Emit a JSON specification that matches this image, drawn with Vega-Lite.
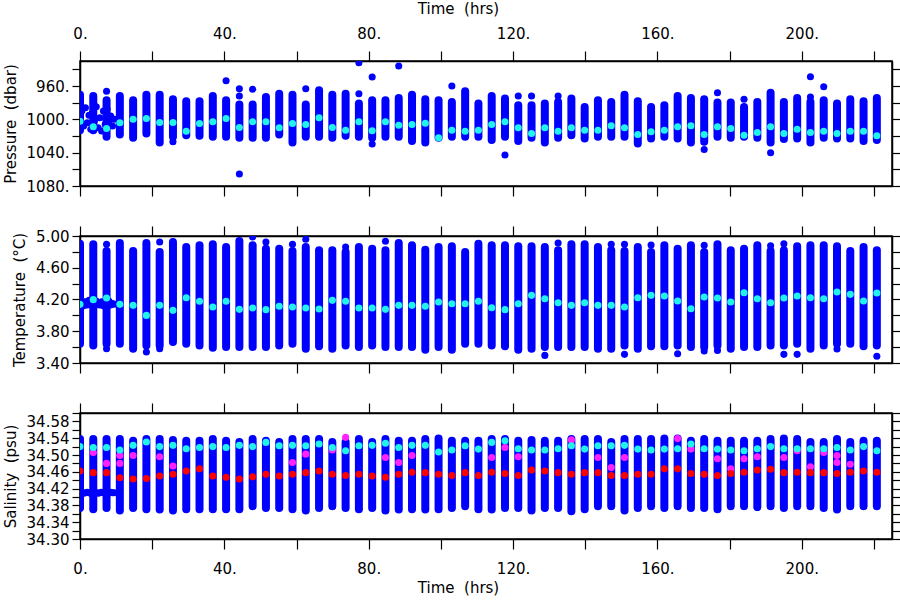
{
"$schema": "https://vega.github.io/schema/vega-lite/v6.json",
"background": "white",
"padding": {"left": 2, "top": 0, "right": 0, "bottom": 0},
"bounds": "flush",
"spacing": 50,
"resolve": {"scale": {"x": "independent", "y": "independent"}, "axis": {"x": "independent", "y": "independent"}},
"config": {
  "view": {"stroke": "black", "strokeWidth": 1.5},
  "axis": {"labelFont": "DejaVu Sans", "titleFont": "DejaVu Sans", "labelFontSize": 15, "titleFontSize": 15, "titleFontWeight": "normal", "labelColor": "black", "titleColor": "black", "tickColor": "black", "domainColor": "black", "domainWidth": 1.5, "tickWidth": 1.2, "grid": false, "labelOverlap": false, "labelFlush": false, "labelBound": false}
},
"datasets": {
"cols": [
{"t":0,"plo":970.4,"phi":1013,"pc":1002.2,"tlo":3.643,"thi":4.903,"tc":4.139,"slo":34.374,"shi":34.538,"sc":34.520,"sr":34.462},
{"t":3.68,"plo":972.0,"phi":1013.0,"pc":1009.0,"tlo":3.622,"thi":4.895,"tc":4.198,"slo":34.371,"shi":34.538,"sc":34.518,"sr":34.458},
{"t":7.36,"plo":977.1,"phi":1021.0,"pc":1011.0,"tlo":3.643,"thi":4.811,"tc":4.219,"slo":34.374,"shi":34.538,"sc":34.518,"sr":34.458},
{"t":11.04,"plo":972.0,"phi":1018.2,"pc":1004.2,"tlo":3.643,"thi":4.912,"tc":4.139,"slo":34.368,"shi":34.538,"sc":34.512,"sr":34.446},
{"t":14.72,"plo":977.1,"phi":1022.2,"pc":999.8,"tlo":3.580,"thi":4.811,"tc":4.126,"slo":34.374,"shi":34.534,"sc":34.523,"sr":34.443},
{"t":18.4,"plo":970.4,"phi":1017.0,"pc":999.0,"tlo":3.622,"thi":4.912,"tc":4.000,"slo":34.371,"shi":34.538,"sc":34.531,"sr":34.444},
{"t":22.08,"plo":970.4,"phi":1027.7,"pc":1003.8,"tlo":3.622,"thi":4.798,"tc":4.126,"slo":34.370,"shi":34.538,"sc":34.520,"sr":34.450},
{"t":25.76,"plo":975.9,"phi":1021.0,"pc":1003.8,"tlo":3.664,"thi":4.924,"tc":4.063,"slo":34.368,"shi":34.536,"sc":34.523,"sr":34.454},
{"t":29.44,"plo":978.3,"phi":1019.0,"pc":1014.2,"tlo":3.643,"thi":4.861,"tc":4.223,"slo":34.371,"shi":34.534,"sc":34.515,"sr":34.462},
{"t":33.12,"plo":978.3,"phi":1019.8,"pc":1005.0,"tlo":3.622,"thi":4.882,"tc":4.177,"slo":34.371,"shi":34.534,"sc":34.518,"sr":34.467},
{"t":36.8,"plo":972.0,"phi":1021.0,"pc":1003.0,"tlo":3.593,"thi":4.895,"tc":4.105,"slo":34.371,"shi":34.538,"sc":34.520,"sr":34.450},
{"t":40.48,"plo":977.1,"phi":1021.0,"pc":999.0,"tlo":3.601,"thi":4.861,"tc":4.177,"slo":34.371,"shi":34.534,"sc":34.518,"sr":34.447},
{"t":44.16,"plo":982.3,"phi":1022.2,"pc":1009.8,"tlo":3.601,"thi":4.937,"tc":4.076,"slo":34.371,"shi":34.531,"sc":34.523,"sr":34.443},
{"t":47.84,"plo":982.3,"phi":1022.2,"pc":1003.0,"tlo":3.601,"thi":4.882,"tc":4.093,"slo":34.378,"shi":34.538,"sc":34.520,"sr":34.448},
{"t":51.52,"plo":973.1,"phi":1022.2,"pc":1003.0,"tlo":3.601,"thi":4.840,"tc":4.072,"slo":34.374,"shi":34.534,"sc":34.530,"sr":34.454},
{"t":55.2,"plo":969.2,"phi":1018.2,"pc":1010.2,"tlo":3.622,"thi":4.840,"tc":4.114,"slo":34.374,"shi":34.531,"sc":34.522,"sr":34.450},
{"t":58.88,"plo":970.4,"phi":1027.7,"pc":1005.0,"tlo":3.643,"thi":4.811,"tc":4.105,"slo":34.371,"shi":34.538,"sc":34.523,"sr":34.454},
{"t":62.56,"plo":982.3,"phi":1021.0,"pc":1006.2,"tlo":3.580,"thi":4.861,"tc":4.093,"slo":34.368,"shi":34.538,"sc":34.522,"sr":34.458},
{"t":66.24,"plo":965.2,"phi":1021.0,"pc":998.2,"tlo":3.610,"thi":4.819,"tc":4.080,"slo":34.374,"shi":34.538,"sc":34.526,"sr":34.462},
{"t":69.92,"plo":970.4,"phi":1022.2,"pc":1009.8,"tlo":3.580,"thi":4.819,"tc":4.189,"slo":34.378,"shi":34.531,"sc":34.518,"sr":34.454},
{"t":73.6,"plo":969.2,"phi":1019.8,"pc":1013.0,"tlo":3.622,"thi":4.798,"tc":4.177,"slo":34.374,"shi":34.531,"sc":34.510,"sr":34.451},
{"t":77.28,"plo":981.1,"phi":1021.0,"pc":1003.0,"tlo":3.601,"thi":4.861,"tc":4.093,"slo":34.371,"shi":34.538,"sc":34.522,"sr":34.454},
{"t":80.96,"plo":977.1,"phi":1022.2,"pc":1013.8,"tlo":3.622,"thi":4.840,"tc":4.093,"slo":34.374,"shi":34.531,"sc":34.523,"sr":34.450},
{"t":84.64,"plo":977.1,"phi":1021.0,"pc":1003.0,"tlo":3.601,"thi":4.819,"tc":4.076,"slo":34.368,"shi":34.538,"sc":34.528,"sr":34.447},
{"t":88.32,"plo":974.3,"phi":1021.0,"pc":1007.0,"tlo":3.601,"thi":4.912,"tc":4.126,"slo":34.370,"shi":34.534,"sc":34.518,"sr":34.454},
{"t":92,"plo":970.4,"phi":1026.1,"pc":1006.2,"tlo":3.601,"thi":4.882,"tc":4.126,"slo":34.371,"shi":34.534,"sc":34.523,"sr":34.459},
{"t":95.68,"plo":975.9,"phi":1027.7,"pc":1004.6,"tlo":3.568,"thi":4.828,"tc":4.114,"slo":34.370,"shi":34.538,"sc":34.523,"sr":34.458},
{"t":99.36,"plo":977.1,"phi":1022.2,"pc":1022.2,"tlo":3.601,"thi":4.861,"tc":4.168,"slo":34.371,"shi":34.539,"sc":34.507,"sr":34.454},
{"t":103.04,"plo":979.1,"phi":1021.0,"pc":1013.0,"tlo":3.568,"thi":4.870,"tc":4.147,"slo":34.374,"shi":34.534,"sc":34.512,"sr":34.451},
{"t":106.72,"plo":966.4,"phi":1021.0,"pc":1014.2,"tlo":3.643,"thi":4.798,"tc":4.147,"slo":34.378,"shi":34.534,"sc":34.522,"sr":34.458},
{"t":110.4,"plo":981.1,"phi":1021.0,"pc":1013.0,"tlo":3.643,"thi":4.903,"tc":4.177,"slo":34.371,"shi":34.534,"sc":34.514,"sr":34.451},
{"t":114.08,"plo":972.0,"phi":1024.9,"pc":1006.2,"tlo":3.622,"thi":4.882,"tc":4.097,"slo":34.370,"shi":34.538,"sc":34.530,"sr":34.459},
{"t":117.76,"plo":975.1,"phi":1021.0,"pc":1003.0,"tlo":3.610,"thi":4.882,"tc":4.072,"slo":34.374,"shi":34.538,"sc":34.534,"sr":34.456},
{"t":121.44,"plo":983.1,"phi":1026.1,"pc":1010.2,"tlo":3.568,"thi":4.870,"tc":4.147,"slo":34.374,"shi":34.534,"sc":34.515,"sr":34.451},
{"t":125.12,"plo":983.1,"phi":1022.2,"pc":1017.0,"tlo":3.580,"thi":4.870,"tc":4.252,"slo":34.368,"shi":34.536,"sc":34.512,"sr":34.464},
{"t":128.8,"plo":981.1,"phi":1027.7,"pc":1010.2,"tlo":3.601,"thi":4.861,"tc":4.210,"slo":34.374,"shi":34.534,"sc":34.512,"sr":34.462},
{"t":132.48,"plo":979.1,"phi":1022.2,"pc":1014.2,"tlo":3.601,"thi":4.819,"tc":4.160,"slo":34.374,"shi":34.534,"sc":34.515,"sr":34.458},
{"t":136.16,"plo":975.1,"phi":1019.0,"pc":1010.2,"tlo":3.601,"thi":4.895,"tc":4.126,"slo":34.366,"shi":34.538,"sc":34.522,"sr":34.454},
{"t":139.84,"plo":985.1,"phi":1022.9,"pc":1013.0,"tlo":3.601,"thi":4.895,"tc":4.160,"slo":34.371,"shi":34.538,"sc":34.514,"sr":34.458},
{"t":143.52,"plo":977.1,"phi":1021.0,"pc":1013.0,"tlo":3.580,"thi":4.861,"tc":4.126,"slo":34.378,"shi":34.538,"sc":34.522,"sr":34.458},
{"t":147.2,"plo":979.1,"phi":1021.0,"pc":1007.8,"tlo":3.580,"thi":4.819,"tc":4.126,"slo":34.378,"shi":34.531,"sc":34.522,"sr":34.451},
{"t":150.88,"plo":970.4,"phi":1021.0,"pc":1010.2,"tlo":3.622,"thi":4.811,"tc":4.105,"slo":34.368,"shi":34.538,"sc":34.523,"sr":34.451},
{"t":154.56,"plo":978.3,"phi":1028.9,"pc":1018.2,"tlo":3.580,"thi":4.861,"tc":4.223,"slo":34.374,"shi":34.538,"sc":34.514,"sr":34.454},
{"t":158.24,"plo":985.1,"phi":1022.9,"pc":1015.0,"tlo":3.610,"thi":4.798,"tc":4.252,"slo":34.378,"shi":34.538,"sc":34.512,"sr":34.454},
{"t":161.92,"plo":983.1,"phi":1021.0,"pc":1013.0,"tlo":3.610,"thi":4.882,"tc":4.244,"slo":34.374,"shi":34.539,"sc":34.514,"sr":34.467},
{"t":165.6,"plo":972.0,"phi":1022.9,"pc":1009.0,"tlo":3.622,"thi":4.840,"tc":4.181,"slo":34.378,"shi":34.539,"sc":34.515,"sr":34.467},
{"t":169.28,"plo":974.3,"phi":1027.7,"pc":1007.8,"tlo":3.601,"thi":4.882,"tc":4.084,"slo":34.374,"shi":34.534,"sc":34.526,"sr":34.456},
{"t":172.96,"plo":975.9,"phi":1026.9,"pc":1018.2,"tlo":3.601,"thi":4.798,"tc":4.231,"slo":34.374,"shi":34.538,"sc":34.515,"sr":34.454},
{"t":176.64,"plo":979.9,"phi":1021.0,"pc":1009.0,"tlo":3.622,"thi":4.895,"tc":4.219,"slo":34.371,"shi":34.534,"sc":34.514,"sr":34.451},
{"t":180.32,"plo":979.9,"phi":1022.2,"pc":1011.0,"tlo":3.580,"thi":4.819,"tc":4.168,"slo":34.378,"shi":34.534,"sc":34.512,"sr":34.456},
{"t":184,"plo":985.1,"phi":1021.0,"pc":1019.0,"tlo":3.601,"thi":4.840,"tc":4.286,"slo":34.378,"shi":34.534,"sc":34.510,"sr":34.459},
{"t":187.68,"plo":979.1,"phi":1022.2,"pc":1015.8,"tlo":3.601,"thi":4.882,"tc":4.210,"slo":34.376,"shi":34.534,"sc":34.515,"sr":34.464},
{"t":191.36,"plo":968.0,"phi":1027.7,"pc":1009.0,"tlo":3.622,"thi":4.811,"tc":4.160,"slo":34.378,"shi":34.538,"sc":34.520,"sr":34.466},
{"t":195.04,"plo":979.1,"phi":1023.7,"pc":1017.0,"tlo":3.622,"thi":4.819,"tc":4.219,"slo":34.374,"shi":34.539,"sc":34.515,"sr":34.458},
{"t":198.72,"plo":974.3,"phi":1022.9,"pc":1011.8,"tlo":3.643,"thi":4.870,"tc":4.244,"slo":34.378,"shi":34.538,"sc":34.515,"sr":34.459},
{"t":202.4,"plo":979.1,"phi":1027.7,"pc":1015.8,"tlo":3.580,"thi":4.882,"tc":4.223,"slo":34.378,"shi":34.531,"sc":34.515,"sr":34.458},
{"t":206.08,"plo":977.1,"phi":1022.2,"pc":1014.2,"tlo":3.622,"thi":4.882,"tc":4.210,"slo":34.374,"shi":34.531,"sc":34.515,"sr":34.458},
{"t":209.76,"plo":981.1,"phi":1022.9,"pc":1017.0,"tlo":3.643,"thi":4.870,"tc":4.294,"slo":34.370,"shi":34.538,"sc":34.518,"sr":34.456},
{"t":213.44,"plo":975.9,"phi":1022.9,"pc":1014.2,"tlo":3.643,"thi":4.811,"tc":4.265,"slo":34.378,"shi":34.531,"sc":34.512,"sr":34.459},
{"t":217.12,"plo":978.3,"phi":1026.1,"pc":1014.2,"tlo":3.610,"thi":4.861,"tc":4.181,"slo":34.378,"shi":34.534,"sc":34.520,"sr":34.462},
{"t":220.8,"plo":974.3,"phi":1024.9,"pc":1019.8,"tlo":3.622,"thi":4.819,"tc":4.282,"slo":34.378,"shi":34.534,"sc":34.510,"sr":34.459}
],
"stripe": [
{"t":0,"p":1000,"v":4.14,"s":34.410},{"t":0.5,"p":990,"v":4.18,"s":34.411},{"t":1,"p":1008,"v":4.12,"s":34.409},{"t":1.5,"p":986,"v":4.17,"s":34.410},
{"t":2,"p":1004,"v":4.13,"s":34.411},{"t":2.5,"p":995,"v":4.19,"s":34.410},{"t":3,"p":1012,"v":4.14,"s":34.409},{"t":3.5,"p":992,"v":4.16,"s":34.410},
{"t":4,"p":1002,"v":4.12,"s":34.411},{"t":4.5,"p":985,"v":4.18,"s":34.410},{"t":5,"p":1010,"v":4.15,"s":34.409},{"t":5.5,"p":998,"v":4.13,"s":34.410},
{"t":6,"p":1014,"v":4.17,"s":34.411},{"t":6.5,"p":990,"v":4.12,"s":34.410},{"t":7,"p":1006,"v":4.16,"s":34.410},{"t":7.5,"p":988,"v":4.14,"s":34.409},
{"t":8,"p":1003,"v":4.18,"s":34.410},{"t":8.5,"p":996,"v":4.13,"s":34.411},{"t":9,"p":1008,"v":4.15,"s":34.410},{"t":9.5,"p":1000,"v":4.14,"s":34.410}
],
"pout": [
{"t":7.36,"p":966.4},{"t":25.76,"p":1026.9},{"t":40.48,"p":953.6},{"t":44.16,"p":963.2},{"t":44.16,"p":972.0},{"t":44.16,"p":1065.6},
{"t":47.84,"p":964.0},{"t":62.56,"p":963.2},{"t":77.28,"p":932.1},{"t":77.28,"p":969.2},{"t":80.96,"p":949.2},{"t":80.96,"p":1029.7},
{"t":88.32,"p":936.1},{"t":103.04,"p":960.0},{"t":117.76,"p":1042.9},{"t":121.44,"p":972.0},{"t":125.12,"p":972.0},{"t":132.48,"p":972.0},
{"t":172.96,"p":1036.1},{"t":176.64,"p":968.0},{"t":184,"p":975.9},{"t":191.36,"p":1040.1},{"t":202.4,"p":948.8},{"t":202.4,"p":973.1},{"t":206.08,"p":960.8}
],
"tout": [
{"t":7.36,"v":4.895},{"t":7.36,"v":3.580},{"t":18.4,"v":3.538},{"t":22.08,"v":4.924},{"t":22.08,"v":3.580},{"t":47.84,"v":4.987},
{"t":51.52,"v":4.924},{"t":58.88,"v":4.895},{"t":62.56,"v":4.958},{"t":73.6,"v":4.861},{"t":84.64,"v":4.933},{"t":128.8,"v":3.496},
{"t":132.48,"v":4.912},{"t":147.2,"v":4.895},{"t":150.88,"v":4.895},{"t":150.88,"v":3.509},{"t":158.24,"v":4.887},{"t":165.6,"v":3.517},
{"t":172.96,"v":4.882},{"t":172.96,"v":3.551},{"t":176.64,"v":3.559},{"t":191.36,"v":4.878},{"t":195.04,"v":4.903},{"t":195.04,"v":3.509},
{"t":198.72,"v":3.509},{"t":209.76,"v":3.576},{"t":220.8,"v":3.484}
],
"smag": [
{"t":3.68,"s":34.506},{"t":7.36,"s":34.480},{"t":11.04,"s":34.499},{"t":11.04,"s":34.480},{"t":14.72,"s":34.499},{"t":22.08,"s":34.496},
{"t":25.76,"s":34.474},{"t":58.88,"s":34.482},{"t":62.56,"s":34.502},{"t":69.92,"s":34.512},{"t":73.6,"s":34.542},{"t":84.64,"s":34.494},
{"t":88.32,"s":34.482},{"t":92,"s":34.499},{"t":114.08,"s":34.494},{"t":117.76,"s":34.518},{"t":121.44,"s":34.496},{"t":136.16,"s":34.536},
{"t":143.52,"s":34.494},{"t":147.2,"s":34.470},{"t":150.88,"s":34.494},{"t":165.6,"s":34.539},{"t":169.28,"s":34.514},{"t":176.64,"s":34.491},
{"t":180.32,"s":34.467},{"t":184,"s":34.491},{"t":187.68,"s":34.496},{"t":195.04,"s":34.494},{"t":198.72,"s":34.510},{"t":202.4,"s":34.472},
{"t":206.08,"s":34.506},{"t":209.76,"s":34.499},{"t":209.76,"s":34.482},{"t":213.44,"s":34.478}
]
},
"vconcat": [
{
 "width": 812, "height": 125,
 "resolve": {"axis": {"x": "independent", "y": "independent"}},
 "layer": [
  {"data": {"name": "cols"}, "mark": {"type": "rule", "color": "#0000ff", "strokeWidth": 8, "strokeCap": "round", "clip": true},
   "encoding": {
    "x": {"field": "t", "type": "quantitative", "scale": {"domain": [0, 225], "nice": false, "zero": false},
          "axis": {"orient": "top", "values": [0,20,40,60,80,100,120,140,160,180,200,220], "labelExpr": "datum.value % 40 == 0 ? datum.value + '.' : ''", "title": "Time\u00a0 (hrs)", "titleX": 378, "tickSize": 10, "labelPadding": 10, "titlePadding": 10}},
    "y": {"field": "plo", "type": "quantitative", "scale": {"domain": [930, 1080], "reverse": true, "nice": false, "zero": false},
          "axis": {"orient": "left", "values": [940,960,980,1000,1020,1040,1060,1080], "labelExpr": "datum.value % 40 == 0 ? datum.value + '.' : ''", "title": "Pressure\u00a0 (dbar)", "tickSize": 8, "labelPadding": 3, "titlePadding": 8}},
    "y2": {"field": "phi"}
   }},
  {"data": {"name": "cols"}, "mark": {"type": "rule", "opacity": 0},
   "encoding": {
    "x": {"field": "t", "type": "quantitative", "scale": {"domain": [0, 225], "nice": false, "zero": false},
          "axis": {"orient": "bottom", "values": [0,20,40,60,80,100,120,140,160,180,200,220], "labels": false, "title": null, "tickSize": 10}},
    "y": {"field": "plo", "type": "quantitative", "scale": {"domain": [930, 1080], "reverse": true, "nice": false, "zero": false},
          "axis": {"orient": "right", "values": [940,960,980,1000,1020,1040,1060,1080], "labels": false, "title": null, "tickSize": 8}},
    "y2": {"field": "phi"}
   }},
  {"data": {"name": "stripe"}, "mark": {"type": "circle", "color": "#0000ff", "size": 50, "opacity": 1, "clip": true},
   "encoding": {
    "x": {"field": "t", "type": "quantitative", "scale": {"domain": [0, 225], "nice": false, "zero": false}, "axis": null},
    "y": {"field": "p", "type": "quantitative", "scale": {"domain": [930, 1080], "reverse": true, "nice": false, "zero": false}, "axis": null}
   }},
  {"data": {"name": "pout"}, "mark": {"type": "circle", "color": "#0000ff", "size": 50, "opacity": 1, "clip": true},
   "encoding": {
    "x": {"field": "t", "type": "quantitative", "scale": {"domain": [0, 225], "nice": false, "zero": false}, "axis": null},
    "y": {"field": "p", "type": "quantitative", "scale": {"domain": [930, 1080], "reverse": true, "nice": false, "zero": false}, "axis": null}
   }},
  {"data": {"name": "cols"}, "mark": {"type": "circle", "color": "#22f2ee", "size": 50, "opacity": 1, "clip": true},
   "encoding": {
    "x": {"field": "t", "type": "quantitative", "scale": {"domain": [0, 225], "nice": false, "zero": false}, "axis": null},
    "y": {"field": "pc", "type": "quantitative", "scale": {"domain": [930, 1080], "reverse": true, "nice": false, "zero": false}, "axis": null}
   }}
 ]
},
{
 "width": 812, "height": 127,
 "resolve": {"axis": {"x": "independent", "y": "independent"}},
 "layer": [
  {"data": {"name": "cols"}, "mark": {"type": "rule", "color": "#0000ff", "strokeWidth": 8, "strokeCap": "round", "clip": true},
   "encoding": {
    "x": {"field": "t", "type": "quantitative", "scale": {"domain": [0, 225], "nice": false, "zero": false},
          "axis": {"orient": "top", "values": [0,20,40,60,80,100,120,140,160,180,200,220], "labels": false, "title": null, "tickSize": 10}},
    "y": {"field": "tlo", "type": "quantitative", "scale": {"domain": [3.4, 5.0], "nice": false, "zero": false},
          "axis": {"orient": "left", "values": [3.4,3.6,3.8,4.0,4.2,4.4,4.6,4.8,5.0], "labelExpr": "round(datum.value*10) % 4 == 2 ? format(datum.value, '.2f') : ''", "title": "Temperature\u00a0 (°C)", "tickSize": 8, "labelPadding": 3, "titlePadding": 8}},
    "y2": {"field": "thi"}
   }},
  {"data": {"name": "cols"}, "mark": {"type": "rule", "opacity": 0},
   "encoding": {
    "x": {"field": "t", "type": "quantitative", "scale": {"domain": [0, 225], "nice": false, "zero": false},
          "axis": {"orient": "bottom", "values": [0,20,40,60,80,100,120,140,160,180,200,220], "labels": false, "title": null, "tickSize": 10}},
    "y": {"field": "tlo", "type": "quantitative", "scale": {"domain": [3.4, 5.0], "nice": false, "zero": false},
          "axis": {"orient": "right", "values": [3.4,3.6,3.8,4.0,4.2,4.4,4.6,4.8,5.0], "labels": false, "title": null, "tickSize": 8}},
    "y2": {"field": "thi"}
   }},
  {"data": {"name": "stripe"}, "mark": {"type": "circle", "color": "#0000ff", "size": 50, "opacity": 1, "clip": true},
   "encoding": {
    "x": {"field": "t", "type": "quantitative", "scale": {"domain": [0, 225], "nice": false, "zero": false}, "axis": null},
    "y": {"field": "v", "type": "quantitative", "scale": {"domain": [3.4, 5.0], "nice": false, "zero": false}, "axis": null}
   }},
  {"data": {"name": "tout"}, "mark": {"type": "circle", "color": "#0000ff", "size": 50, "opacity": 1, "clip": true},
   "encoding": {
    "x": {"field": "t", "type": "quantitative", "scale": {"domain": [0, 225], "nice": false, "zero": false}, "axis": null},
    "y": {"field": "v", "type": "quantitative", "scale": {"domain": [3.4, 5.0], "nice": false, "zero": false}, "axis": null}
   }},
  {"data": {"name": "cols"}, "mark": {"type": "circle", "color": "#22f2ee", "size": 50, "opacity": 1, "clip": true},
   "encoding": {
    "x": {"field": "t", "type": "quantitative", "scale": {"domain": [0, 225], "nice": false, "zero": false}, "axis": null},
    "y": {"field": "tc", "type": "quantitative", "scale": {"domain": [3.4, 5.0], "nice": false, "zero": false}, "axis": null}
   }}
 ]
},
{
 "width": 812, "height": 126,
 "resolve": {"axis": {"x": "independent", "y": "independent"}},
 "layer": [
  {"data": {"name": "cols"}, "mark": {"type": "rule", "color": "#0000ff", "strokeWidth": 8, "strokeCap": "round", "clip": true},
   "encoding": {
    "x": {"field": "t", "type": "quantitative", "scale": {"domain": [0, 225], "nice": false, "zero": false},
          "axis": {"orient": "bottom", "values": [0,20,40,60,80,100,120,140,160,180,200,220], "labelExpr": "datum.value % 40 == 0 ? datum.value + '.' : ''", "title": "Time\u00a0 (hrs)", "titleX": 378, "tickSize": 10, "labelPadding": 12, "titlePadding": 4}},
    "y": {"field": "slo", "type": "quantitative", "scale": {"domain": [34.3, 34.6], "nice": false, "zero": false},
          "axis": {"orient": "left", "values": [34.3,34.32,34.34,34.36,34.38,34.4,34.42,34.44,34.46,34.48,34.5,34.52,34.54,34.56,34.58,34.6], "labelExpr": "round(datum.value*100) % 4 == 2 ? format(datum.value, '.2f') : ''", "title": "Salinity\u00a0 (psu)", "tickSize": 8, "labelPadding": 3, "titlePadding": 8}},
    "y2": {"field": "shi"}
   }},
  {"data": {"name": "cols"}, "mark": {"type": "rule", "opacity": 0},
   "encoding": {
    "x": {"field": "t", "type": "quantitative", "scale": {"domain": [0, 225], "nice": false, "zero": false},
          "axis": {"orient": "top", "values": [0,20,40,60,80,100,120,140,160,180,200,220], "labels": false, "title": null, "tickSize": 10}},
    "y": {"field": "slo", "type": "quantitative", "scale": {"domain": [34.3, 34.6], "nice": false, "zero": false},
          "axis": {"orient": "right", "values": [34.3,34.32,34.34,34.36,34.38,34.4,34.42,34.44,34.46,34.48,34.5,34.52,34.54,34.56,34.58,34.6], "labels": false, "title": null, "tickSize": 8}},
    "y2": {"field": "shi"}
   }},
  {"data": {"name": "stripe"}, "mark": {"type": "circle", "color": "#0000ff", "size": 50, "opacity": 1, "clip": true},
   "encoding": {
    "x": {"field": "t", "type": "quantitative", "scale": {"domain": [0, 225], "nice": false, "zero": false}, "axis": null},
    "y": {"field": "s", "type": "quantitative", "scale": {"domain": [34.3, 34.6], "nice": false, "zero": false}, "axis": null}
   }},
  {"data": {"name": "smag"}, "mark": {"type": "circle", "color": "#ff22ff", "size": 50, "opacity": 1, "clip": true},
   "encoding": {
    "x": {"field": "t", "type": "quantitative", "scale": {"domain": [0, 225], "nice": false, "zero": false}, "axis": null},
    "y": {"field": "s", "type": "quantitative", "scale": {"domain": [34.3, 34.6], "nice": false, "zero": false}, "axis": null}
   }},
  {"data": {"name": "cols"}, "mark": {"type": "circle", "color": "#22f2ee", "size": 50, "opacity": 1, "clip": true},
   "encoding": {
    "x": {"field": "t", "type": "quantitative", "scale": {"domain": [0, 225], "nice": false, "zero": false}, "axis": null},
    "y": {"field": "sc", "type": "quantitative", "scale": {"domain": [34.3, 34.6], "nice": false, "zero": false}, "axis": null}
   }},
  {"data": {"name": "cols"}, "mark": {"type": "circle", "color": "#ff0000", "size": 50, "opacity": 1, "clip": true},
   "encoding": {
    "x": {"field": "t", "type": "quantitative", "scale": {"domain": [0, 225], "nice": false, "zero": false}, "axis": null},
    "y": {"field": "sr", "type": "quantitative", "scale": {"domain": [34.3, 34.6], "nice": false, "zero": false}, "axis": null}
   }}
 ]
}
]
}
